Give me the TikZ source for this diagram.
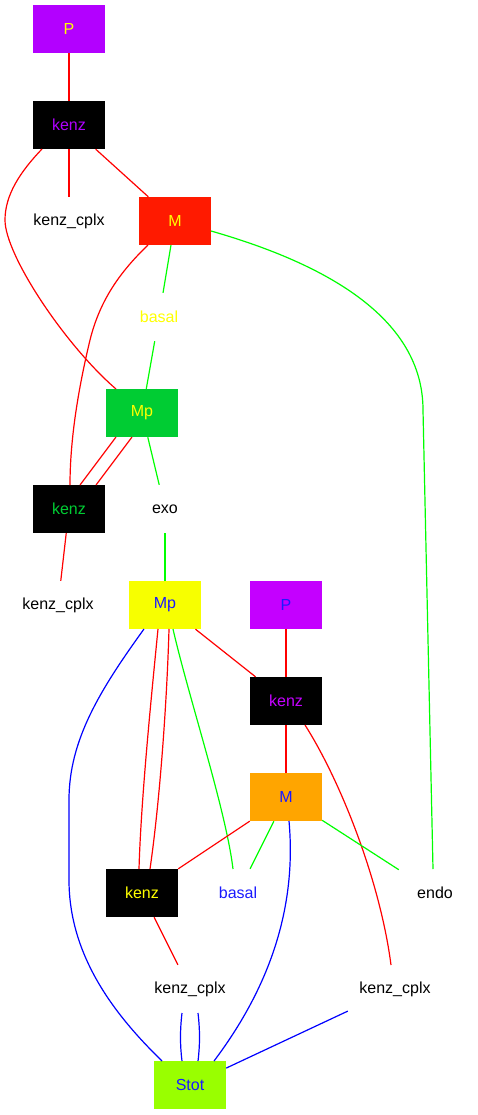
\documentclass[tikz,border=0pt]{standalone}
\usepackage{fontspec}
\setmainfont{Liberation Sans}
\usetikzlibrary{calc}
\definecolor{cPa}{HTML}{B300FF}
\definecolor{cPb}{HTML}{C400FF}
\definecolor{cMa}{HTML}{FF1A00}
\definecolor{cMpa}{HTML}{00CC33}
\definecolor{cMpb}{HTML}{F7FF00}
\definecolor{cMb}{HTML}{FFA500}
\definecolor{cSt}{HTML}{99FF00}
\definecolor{cYel}{HTML}{FFFF00}
\definecolor{cBlu}{HTML}{1A1AFF}
\definecolor{cPur}{HTML}{B000FF}
\definecolor{cRed}{HTML}{FF0000}
\definecolor{cGrn}{HTML}{00FF00}
\definecolor{cBl}{HTML}{0000FF}
\begin{document}
\begin{tikzpicture}[x=1pt,y=-1pt,
  box/.style={minimum width=72pt,minimum height=48pt,inner sep=0pt,font=\fontsize{16}{18}\selectfont},
  wide/.style={box,minimum width=94pt},
  rl/.style={draw=cRed,line width=1.2pt},
  gl/.style={draw=cGrn,line width=1.2pt},
  bl/.style={draw=cBl,line width=1.2pt}]
\useasboundingbox (0,0) rectangle (477,1115);
\node[box,fill=cPa,text=cYel] (P1) at (69,29) {P};
\node[box,fill=black,text=cPur] (K1) at (69,125) {kenz};
\node[wide] (C1) at (69,221) {kenz\_cplx};
\node[box,fill=cMa,text=cYel] (M1) at (175,221) {M};
\node[box,text=cYel] (B1) at (159,317) {basal};
\node[box,fill=cMpa,text=cYel] (Mp1) at (142,413) {Mp};
\node[box,fill=black,text=cMpa] (K2) at (69,509) {kenz};
\node[box] (E1) at (165,509) {exo};
\node[wide] (C2) at (58,605) {kenz\_cplx};
\node[box,fill=cMpb,text=cBlu] (Mp2) at (165,605) {Mp};
\node[box,fill=cPb,text=cBlu] (P2) at (286,605) {P};
\node[box,fill=black,text=cPb] (K3) at (286,701) {kenz};
\node[box,fill=cMb,text=cBlu] (M2) at (286,797) {M};
\node[box,fill=black,text=cYel] (K4) at (142,893) {kenz};
\node[box,text=cBlu] (B2) at (238,893) {basal};
\node[box] (En) at (435,893) {endo};
\node[wide] (C3) at (190,989) {kenz\_cplx};
\node[wide] (C4) at (395,989) {kenz\_cplx};
\node[box,fill=cSt,text=cBlu] (St) at (190,1085) {Stot};

% top part
\draw[rl] (P1) -- (K1);
\draw[rl] (K1) -- (C1);
\draw[rl] (K1) -- (M1);
\draw[rl] ($(K1.center)+(-27,24)$) .. controls (20,172) and (5,195) .. (5,220)
  .. controls (5,255) and (65,345) .. ($(Mp1.center)+(-26,-24)$);
\draw[rl] ($(M1.center)+(-27,24)$) .. controls (120,272) and (100,300) .. (90,340)
  .. controls (78,390) and (70,440) .. ($(K2.center)+(1,-24)$);
\draw[gl] (M1) -- (B1);
\draw[gl] ($(M1.center)+(36,10)$) .. controls (330,265) and (423,320) .. (423,410)
  -- ($(En.center)+(-2,-24)$);
\draw[gl] (B1) -- (Mp1);
\draw[rl] ($(Mp1.center)+(-26,24)$) -- ($(K2.center)+(11,-24)$);
\draw[rl] ($(Mp1.center)+(-10,24)$) -- ($(K2.center)+(27,-24)$);
\draw[gl] (Mp1) -- (E1);
\draw[rl] (K2) -- (C2);
\draw[gl] (E1) -- (Mp2);

% bottom part
\draw[rl] (Mp2) -- (K3);
\draw[rl] ($(Mp2.center)+(-7,24)$) .. controls (151,700) and (141,800) .. ($(K4.center)+(-3,-24)$);
\draw[rl] ($(Mp2.center)+(4,24)$) .. controls (167,700) and (160,800) .. ($(K4.center)+(8,-24)$);
\draw[gl] ($(Mp2.center)+(8,24)$) .. controls (188,695) and (226,810) .. ($(B2.center)+(-5,-24)$);
\draw[bl] ($(Mp2.center)+(-21,24)$) .. controls (100,690) and (69,740) .. (69,800)
  -- (69,880) .. controls (69,960) and (120,1020) .. ($(St.center)+(-28,-24)$);
\draw[rl] (P2) -- (K3);
\draw[rl] (K3) -- (M2);
\draw[rl] ($(K3.center)+(19,24)$) .. controls (340,780) and (380,880) .. ($(C4.center)+(-4,-24)$);
\draw[rl] (M2) -- (K4);
\draw[gl] (M2) -- (B2);
\draw[gl] (M2) -- (En);
\draw[bl] ($(M2.center)+(3,24)$) .. controls (298,920) and (260,1000) .. ($(St.center)+(24,-24)$);
\draw[rl] (K4) -- (C3);
\draw[bl] ($(C3.center)+(-8,24)$) .. controls (180,1030) and (180,1045) .. ($(St.center)+(-8,-24)$);
\draw[bl] ($(C3.center)+(8,24)$) .. controls (200,1030) and (200,1045) .. ($(St.center)+(8,-24)$);
\draw[bl] (C4) -- (St);
\end{tikzpicture}
\end{document}
